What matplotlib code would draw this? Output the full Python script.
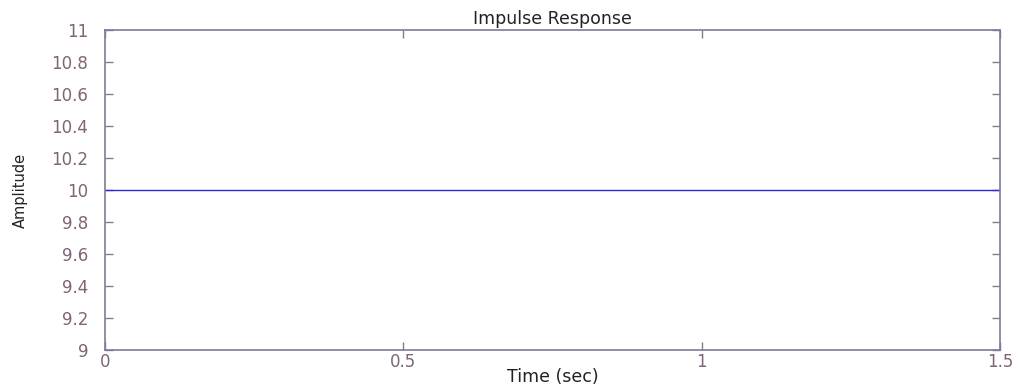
import matplotlib
matplotlib.use("Agg")
import matplotlib.pyplot as plt

# Impulse response data
time = [0.0, 1.5]
amplitude = [10.0, 10.0]
x_ticks = [0, 0.5, 1, 1.5]
x_tick_labels = ["0", "0.5", "1", "1.5"]
y_ticks = [9, 9.2, 9.4, 9.6, 9.8, 10, 10.2, 10.4, 10.6, 10.8, 11]
y_tick_labels = ["9", "9.2", "9.4", "9.6", "9.8", "10", "10.2", "10.4", "10.6", "10.8", "11"]

plt.rcParams['font.family'] = ['DejaVu Sans']

fig = plt.figure(figsize=(10.21, 3.85), dpi=100)
ax = fig.add_axes([0.1028, 0.0909, 0.8766, 0.8312])

ax.plot(time, amplitude, color='#2a2ad0', linewidth=1.0)

ax.set_xlim(0, 1.5)
ax.set_ylim(9, 11)
ax.set_xticks(x_ticks)
ax.set_xticklabels(x_tick_labels)
ax.set_yticks(y_ticks)
ax.set_yticklabels(y_tick_labels)

axis_color = '#7c7c98'
label_color = '#7e6478'
for sp in ax.spines.values():
    sp.set_color(axis_color)
    sp.set_linewidth(1.2)
ax.tick_params(direction='in', top=True, right=True, length=6, width=1.0,
               color=axis_color, labelcolor=label_color, labelsize=12)
ax.tick_params(axis='y', pad=12)
ax.tick_params(axis='x', pad=2)

ax.set_title("Impulse Response", fontsize=12.5, color='#222222', pad=4)
ax.set_xlabel("Time (sec)", fontsize=12.5, color='#222222')
ax.xaxis.set_label_coords(0.5, -0.085)
ax.xaxis.label.set_va('center')
ax.set_ylabel("Amplitude", fontsize=10.5, color='#222222')
ax.yaxis.set_label_coords(-0.095, 0.5)
ax.yaxis.label.set_va('center')

fig.savefig("out.png", dpi=100)
